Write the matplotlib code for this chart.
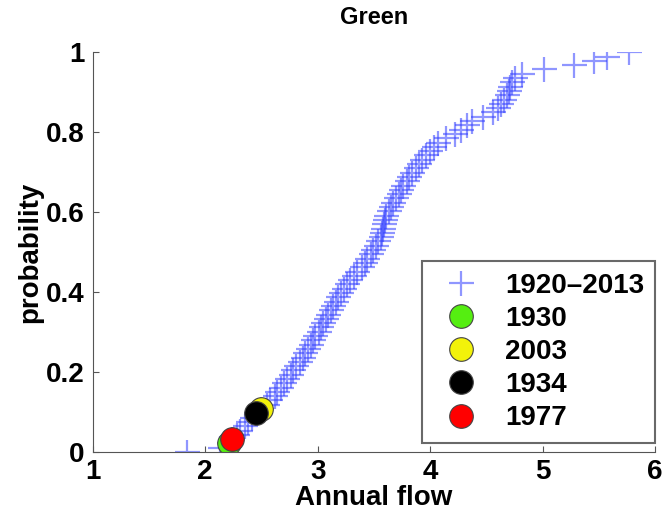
import matplotlib
matplotlib.use('Agg')
import matplotlib.pyplot as plt
import numpy as np

# sorted annual flows 1920-2013
flows = [1.84, 2.13, 2.21, 2.24, 2.28, 2.31, 2.35, 2.38, 2.42, 2.45,
         2.50, 2.55, 2.58, 2.62, 2.64, 2.67, 2.70, 2.73, 2.76, 2.78,
         2.81, 2.84, 2.87, 2.89, 2.91, 2.94, 2.96, 2.98, 3.01, 3.03,
         3.05, 3.07, 3.09, 3.12, 3.14, 3.16, 3.18, 3.21, 3.23, 3.26,
         3.29, 3.32, 3.35, 3.39, 3.42, 3.44, 3.47, 3.49, 3.52, 3.54,
         3.56, 3.57, 3.58, 3.59, 3.60, 3.61, 3.63, 3.65, 3.67, 3.70,
         3.72, 3.74, 3.76, 3.79, 3.81, 3.84, 3.87, 3.90, 3.93, 3.96,
         4.00, 4.03, 4.07, 4.14, 4.22, 4.27, 4.33, 4.37, 4.47, 4.56,
         4.60, 4.63, 4.66, 4.68, 4.70, 4.71, 4.73, 4.75, 4.82, 5.01,
         5.28, 5.46, 5.57, 5.77]

# highlighted years: label, rank in sorted list, colour
years = ['1930', '2003', '1934', '1977']
year_rank = [2, 10, 9, 3]
year_color = ['#55ee11', '#f2f20a', 'black', 'red']

x_ticks = [1, 2, 3, 4, 5, 6]
y_ticks = [0, 0.2, 0.4, 0.6, 0.8, 1]
y_ticklabels = ['0', '0.2', '0.4', '0.6', '0.8', '1']

flows = np.array(flows)
n = len(flows)
prob = np.arange(n) / (n - 1)

plt.rcParams['font.family'] = ['Liberation Sans', 'DejaVu Sans']
plt.rcParams['font.weight'] = 'bold'

fig = plt.figure(figsize=(6.72, 5.12), dpi=100)
ax = fig.add_axes([0.138, 0.117, 0.837, 0.781])

ax.plot(flows, prob, '+', color=(0.2, 0.25, 1.0), alpha=0.55,
        markersize=18, markeredgewidth=1.6, label='1920\u20132013')
for lab, r, c in zip(years, year_rank, year_color):
    ax.plot(flows[r], prob[r], 'o', color=c, markersize=17,
            markeredgecolor='#444444', markeredgewidth=0.8, label=lab)

ax.set_xlim(1, 6)
ax.set_ylim(0, 1)
ax.set_xticks(x_ticks)
ax.set_yticks(y_ticks)
ax.set_yticklabels(y_ticklabels)
ax.tick_params(direction='in', length=4, labelsize=20, width=0.8, colors='#555555',
               labelcolor='black')
ax.tick_params(axis='y', pad=6)
ax.tick_params(axis='x', pad=5)
for lbl in ax.get_xticklabels() + ax.get_yticklabels():
    lbl.set_fontweight('bold')
ax.spines['top'].set_visible(False)
ax.spines['right'].set_visible(False)
for s in ['left', 'bottom']:
    ax.spines[s].set_color('#555555')
    ax.spines[s].set_linewidth(0.8)

ax.set_title('Green', fontsize=17, fontweight='bold', pad=20)
ax.set_xlabel('Annual flow', fontsize=20, fontweight='bold', labelpad=0)
ax.set_ylabel('probability', fontsize=20, fontweight='bold', labelpad=2)

leg = ax.legend(loc='lower right', bbox_to_anchor=(1.01, 0.01), fontsize=20,
                frameon=True, fancybox=False, edgecolor='#444444',
                handletextpad=0.6, borderpad=0.4, labelspacing=0.26,
                handlelength=2.0, borderaxespad=0.2)
leg.get_frame().set_linewidth(1.5)
for t in leg.get_texts():
    t.set_fontweight('bold')

fig.savefig('out.png', dpi=100)
